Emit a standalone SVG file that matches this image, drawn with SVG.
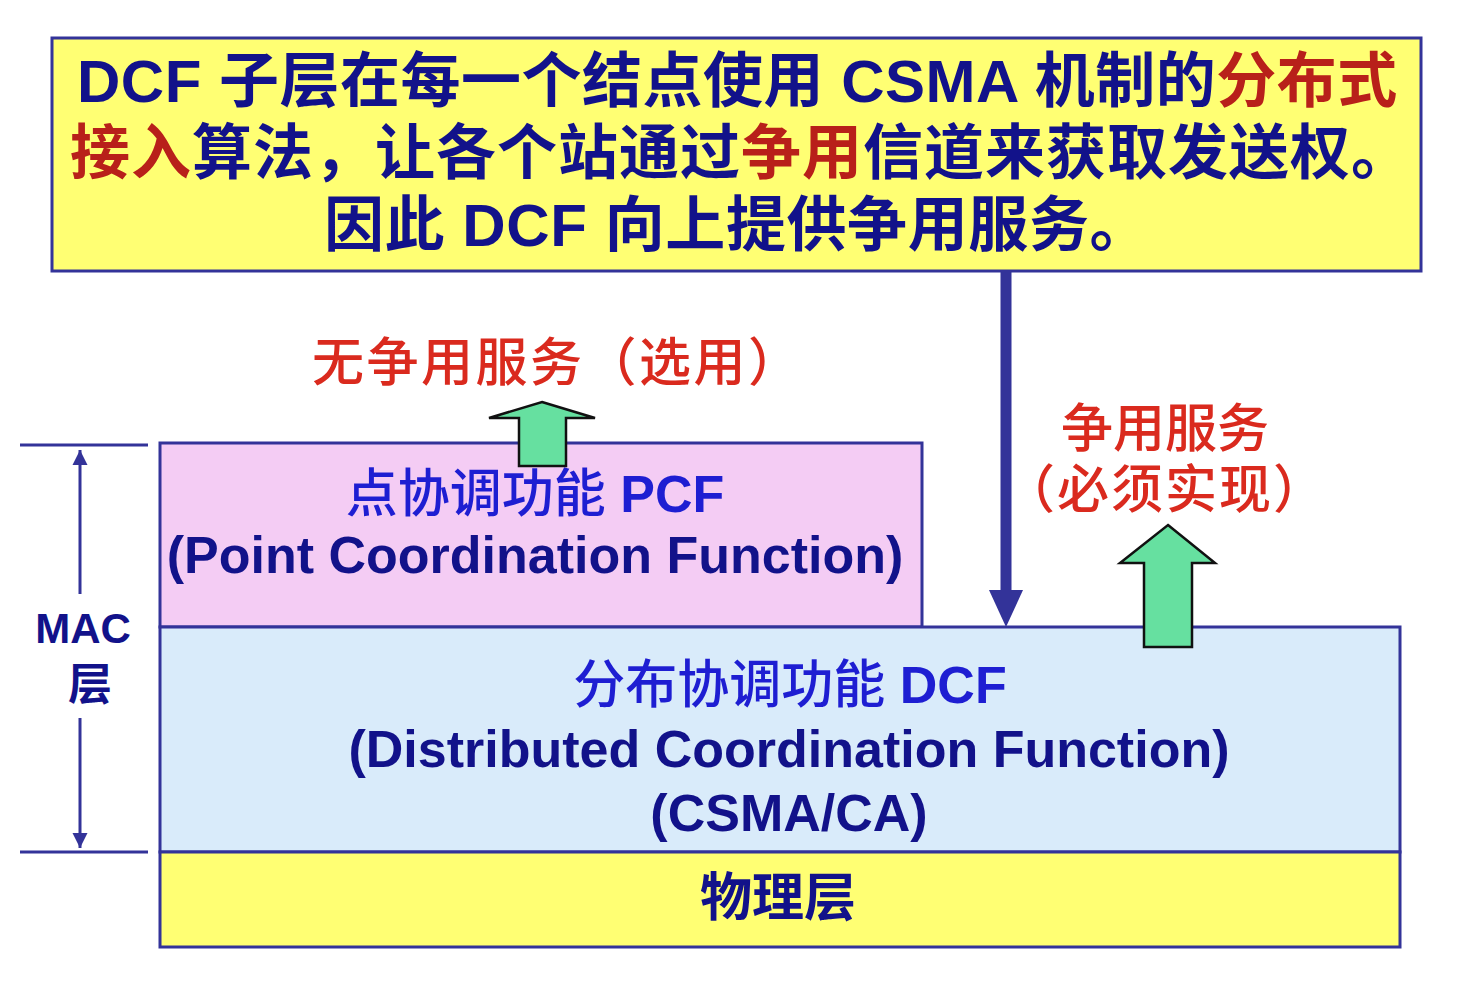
<svg xmlns="http://www.w3.org/2000/svg" width="1480" height="982" viewBox="0 0 1480 982">
<defs>
<style>
.box{stroke:#333399;stroke-width:3}
.yel{fill:#FFFF73}
.t{font-family:"Liberation Sans","Noto Sans CJK SC",sans-serif;font-weight:bold}
.m{font-weight:500}
.b{font-weight:bold}
.navy{fill:#12128A}
.dred{fill:#B8201A}
.red{fill:#DA2A1E}
.blue{fill:#1E1ED2}
.green{fill:#66E0A0;stroke:#111;stroke-width:2.5;stroke-linejoin:miter}
.thin{stroke:#333399;stroke-width:3;fill:none}
</style>
<marker id="ah" viewBox="0 0 10 10" refX="10" refY="5" markerWidth="5" markerHeight="6" markerUnits="strokeWidth" orient="auto-start-reverse">
<path d="M0,0 L10,5 L0,10 z" fill="#333399"/>
</marker>
</defs>
<rect width="1480" height="982" fill="#ffffff"/>

<g id="top-note">
<rect class="box yel" x="52" y="38" width="1369" height="233"/>
<text class="t navy" x="77" y="102" font-size="60" letter-spacing="0.5">DCF 子层在每一个结点使用 CSMA 机制的<tspan class="dred">分布式</tspan></text>
<text class="t navy" x="70" y="174" font-size="60" letter-spacing="1"><tspan class="dred">接入</tspan>算法，让各个站通过<tspan class="dred">争用</tspan>信道来获取发送权。</text>
<text class="t navy" x="737" y="246" font-size="60" letter-spacing="0.6" text-anchor="middle">因此 DCF 向上提供争用服务。</text>
</g>

<g id="pcf">
<rect class="box" fill="#F4CCF4" x="160" y="443" width="762" height="184"/>
<text class="t m blue" x="535" y="512" font-size="52" text-anchor="middle">点协调功能 <tspan class="b">PCF</tspan></text>
<text class="t navy" x="535" y="573" font-size="52" text-anchor="middle">(Point Coordination Function)</text>
</g>

<g id="dcf">
<rect class="box" fill="#D9EBFA" x="160" y="627" width="1240" height="225"/>
<text class="t m blue" x="790" y="703" font-size="52" text-anchor="middle">分布协调功能 <tspan class="b">DCF</tspan></text>
<text class="t navy" x="789" y="767" font-size="52" text-anchor="middle">(Distributed Coordination Function)</text>
<text class="t navy" x="789" y="831" font-size="52" text-anchor="middle">(CSMA/CA)</text>
</g>

<g id="phy">
<rect class="box yel" x="160" y="852" width="1240" height="95"/>
<text class="t navy" x="778" y="916" font-size="52" text-anchor="middle">物理层</text>
</g>

<g id="mac-label">
<text class="t navy" x="83" y="643" font-size="42" text-anchor="middle">MAC</text>
<text class="t navy" x="90" y="700" font-size="44" text-anchor="middle">层</text>
</g>

<g id="label-pcf-service">
<text class="t m red" x="312" y="381" font-size="52" letter-spacing="2.5">无争用服务（选用）</text>
</g>
<g id="label-dcf-service">
<text class="t m red" x="1165" y="447" font-size="52" text-anchor="middle">争用服务</text>
<text class="t m red" x="1165" y="508" font-size="52" letter-spacing="2" text-anchor="middle">（必须实现）</text>
</g>

<g id="connectors">
<line x1="20" y1="445" x2="148" y2="445" class="thin"/>
<line x1="20" y1="852" x2="148" y2="852" class="thin"/>
<line x1="80" y1="594" x2="80" y2="450" class="thin" marker-end="url(#ah)"/>
<line x1="80" y1="718" x2="80" y2="848" class="thin" marker-end="url(#ah)"/>
<line x1="1006" y1="271" x2="1006" y2="592" stroke="#333399" stroke-width="11"/>
<polygon points="989,590 1023,590 1006,627" fill="#333399"/>
<polygon class="green" points="542,402 595,418 566,418 566,466 519,466 519,418 489,418"/>
<polygon class="green" points="1168,525 1215,563 1192,563 1192,647 1144,647 1144,563 1120,563"/>
</g>
</svg>
